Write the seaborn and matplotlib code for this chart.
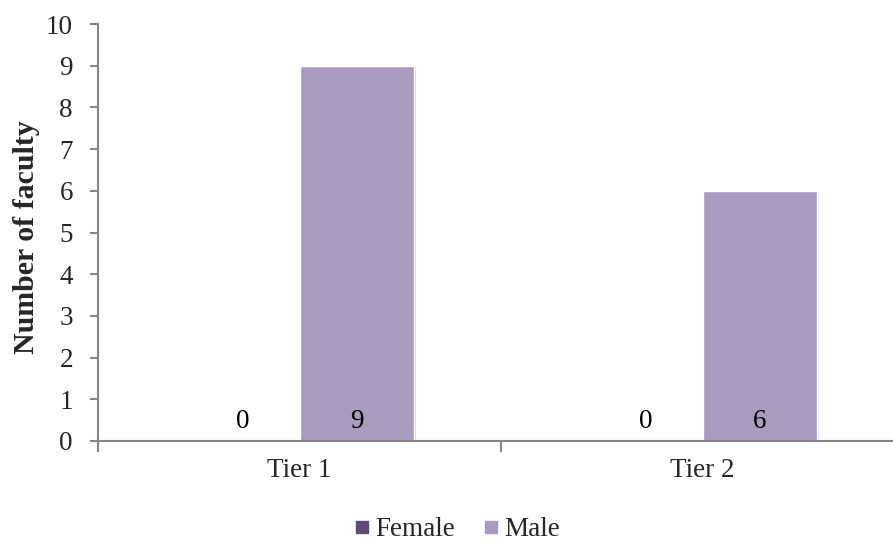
import matplotlib
matplotlib.use("Agg")
import matplotlib.pyplot as plt
import matplotlib.patheffects as pe
from matplotlib.lines import Line2D
import seaborn as sns
import pandas as pd

tiers = ["Tier 1", "Tier 2"]
female = [0, 0]
male = [9, 6]
genders = ["Female", "Male"]
colors = {"Female": "#604A7B", "Male": "#A99BC0"}
y_ticks = list(range(0, 11))

df = pd.DataFrame({
    "tier": tiers * 2,
    "gender": ["Female"] * len(tiers) + ["Male"] * len(tiers),
    "count": female + male,
})

sns.set_style("white")
plt.rcParams["font.family"] = ["Liberation Serif", "DejaVu Serif"]

FS = 19.5
W, H = 893, 542
fig = plt.figure(figsize=(W / 100, H / 100), dpi=100)
left, right, bottom, top = 98, 904, 441, 24
ax = fig.add_axes([left / W, (H - bottom) / H, (right - left) / W, (bottom - top) / H])

sns.barplot(data=df, x="tier", y="count", hue="gender", hue_order=genders,
            palette=colors, width=0.566, dodge=True, ax=ax, legend=False,
            linewidth=1, edgecolor="white", saturation=1)

for patch in ax.patches:
    patch.set_path_effects([pe.SimplePatchShadow(offset=(2, -1), shadow_rgbFace="#bdbdbd", alpha=0.5),
                            pe.Normal()])

# value labels near the base of each bar
for patch in ax.patches:
    h = patch.get_height()
    if h is None:
        continue
    x = patch.get_x() + patch.get_width() / 2
    ax.annotate(f"{int(round(h))}", (x, 0), xytext=(0, 20), textcoords="offset pixels",
                ha="center", va="center", fontsize=FS, color="black")

ax.set_xlim(-0.5, 1.5)
ax.set_ylim(0, 10)
ax.set_yticks(y_ticks)
ax.set_xlabel("")
ax.set_ylabel("Number of faculty", fontsize=21.5, fontweight="bold")
ax.yaxis.set_label_coords(-58 / (right - left), 0.49)

spine_color = "#878787"
for s in ["top", "right"]:
    ax.spines[s].set_visible(False)
for s in ["left", "bottom"]:
    ax.spines[s].set_color(spine_color)
    ax.spines[s].set_linewidth(1.5)

ax.tick_params(axis="y", which="both", left=True, length=6, width=1.5, color=spine_color,
               labelsize=FS, pad=12)
ax.set_xticks([0, 1])
ax.set_xticklabels(tiers)
ax.set_xticks([-0.5, 0.5, 1.5], minor=True)
ax.tick_params(axis="x", which="major", bottom=False, labelsize=FS, pad=9)
ax.tick_params(axis="x", which="minor", bottom=True, length=8, width=1.5, color=spine_color)

handles = [Line2D([0], [0], marker="s", linestyle="none", markersize=9,
                  markerfacecolor=colors[g], markeredgecolor=colors[g]) for g in genders]
fig.legend(handles, genders, loc="center", bbox_to_anchor=(457 / W, 1 - 530 / H), ncol=2,
           frameon=False, fontsize=FS, handletextpad=0.2, columnspacing=1.0, handlelength=0.6)

fig.savefig("out.png", dpi=100)
